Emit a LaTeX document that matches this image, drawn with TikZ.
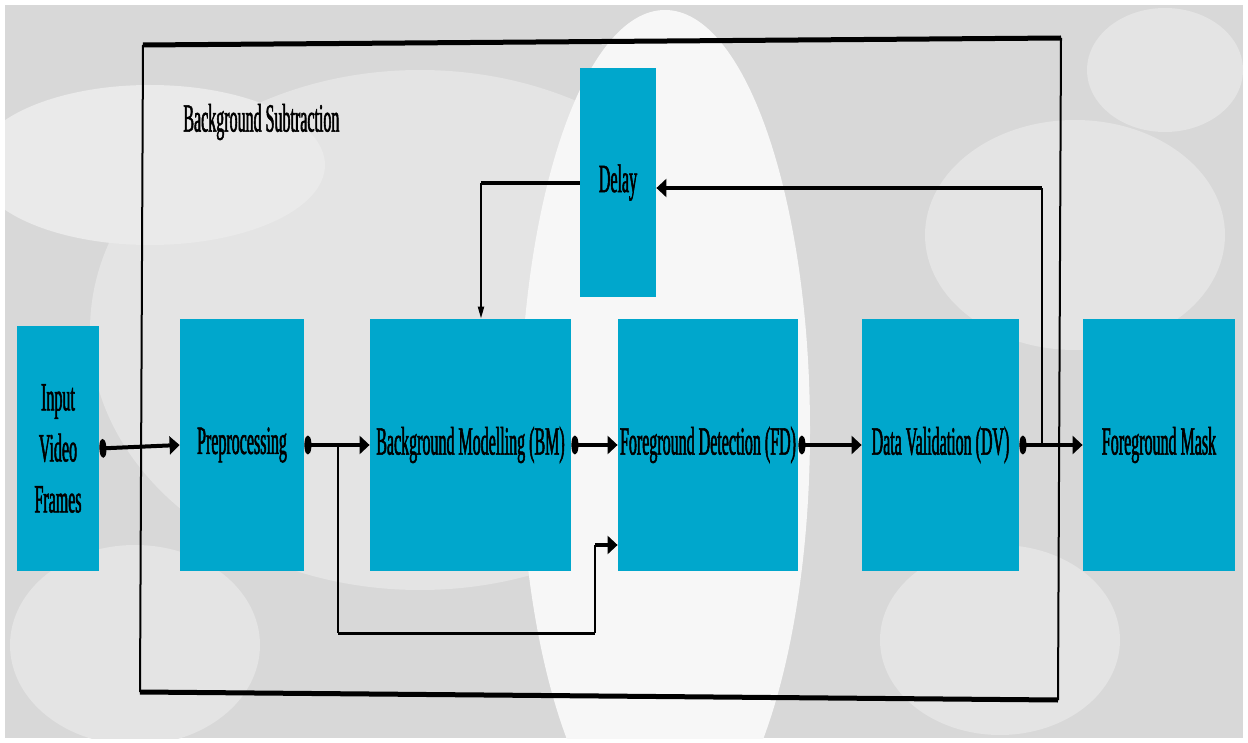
\documentclass[tikz,border=0pt]{standalone}
\usepackage{fontspec}
\setmainfont{Liberation Serif}[FakeStretch=0.40, FakeBold=1.3]
\usetikzlibrary{arrows.meta}
\definecolor{boxblue}{RGB}{0,167,204}
\definecolor{bgbase}{RGB}{216,216,216}
\definecolor{bglight}{RGB}{228,228,228}
\definecolor{bglighter}{RGB}{234,234,234}
\definecolor{bgbright}{RGB}{247,247,247}
\tikzset{
  box/.style={fill=boxblue, draw=none, inner sep=0pt, align=center,
    font=\fontsize{20pt}{25.5pt}\selectfont},
  flow/.style={line width=2pt, {Ellipse[length=3.5pt,width=9pt]}-{Triangle[length=5pt,width=9pt]}},
  wire/.style={line width=1pt},
  bus/.style={line width=2pt},
  frameedge/.style={line width=2.5pt},
  frameside/.style={line width=1pt},
}
\begin{document}
\begin{tikzpicture}[x=0.5pt, y=-0.5pt]
\useasboundingbox (0,0) rectangle (1248,743);
% backdrop
\begin{scope}
  \clip (5,5) rectangle (1243,738);
  \fill[bgbase] (5,5) rectangle (1243,738);
  \fill[bglight] (420,330) ellipse [x radius=330, y radius=260];
  \fill[bglighter] (150,165) ellipse [x radius=175, y radius=80];
  \fill[bglight] (1165,70) ellipse [x radius=78, y radius=62];
  \fill[bglight] (1075,235) ellipse [x radius=150, y radius=115];
  \fill[bglight] (135,645) ellipse [x radius=125, y radius=100];
  \fill[bglight] (1000,640) ellipse [x radius=120, y radius=95];
  \fill[bgbright] (665,430) ellipse [x radius=145, y radius=420];
\end{scope}
% enclosing frame
\coordinate (f1) at (143,45);
\coordinate (f2) at (1061,38);
\coordinate (f3) at (1058,700);
\coordinate (f4) at (140,692);
\draw[frameedge] (f1) -- (f2);
\draw[frameedge] (f3) -- (f4);
\draw[frameside] (f2) -- (f3);
\draw[frameside] (f4) -- (f1);
\node[anchor=west, inner sep=0pt, font=\fontsize{20pt}{24pt}\selectfont] (title) at (183,122) {Background Subtraction};
% blocks
\node[box, minimum width=41pt, minimum height=122.5pt] (inp) at (58,448.5) {Input\\Video\\Frames};
\node[box, minimum width=62pt, minimum height=126pt] (pre) at (242,445) {Preprocessing};
\node[box, minimum width=100.5pt, minimum height=126pt] (bm) at (470.5,445) {Background Modelling (BM)};
\node[box, minimum width=90pt, minimum height=126pt] (fd) at (708,445) {Foreground Detection (FD)};
\node[box, minimum width=78.5pt, minimum height=126pt] (dv) at (940.5,445) {Data Validation (DV)};
\node[box, minimum width=76pt, minimum height=126pt] (fm) at (1159,445) {Foreground Mask};
\node[box, minimum width=38pt, minimum height=114.5pt] (dly) at (618,182.5) {Delay};
% main flow
\draw[flow] (inp.east) -- (pre.west);
\draw[flow] (pre.east) -- (bm.west);
\draw[flow] (bm.east) -- (fd.west);
\draw[flow] (fd.east) -- (dv.west);
\draw[flow] (dv.east) -- (fm.west);
% bypass from preprocessing to foreground detection
\coordinate (b1) at (338,445);
\coordinate (b2) at (338,633);
\coordinate (b3) at (595,633);
\coordinate (b4) at (595,545);
\draw[wire] (b1) -- (b2);
\draw[line width=1.5pt] (b2) -- (b3);
\draw[wire] (b3) -- (b4);
\draw[bus, -{Triangle[length=5pt,width=9pt]}] (b4) -- (b4 -| fd.west);
% feedback through the delay
\coordinate (k0) at (1042,445);
\coordinate (k1) at (1042,188);
\draw[wire] (k0) -- (k1);
\draw[bus, -{Triangle[length=5pt,width=9pt]}] (k1) -- (k1 -| dly.east);
\coordinate (k2) at (481,183);
\draw[bus] (dly.west |- k2) -- (k2);
\draw[wire, -{Triangle[length=6pt,width=3pt]}] (k2) -- (k2 |- bm.north);
\end{tikzpicture}
\end{document}
